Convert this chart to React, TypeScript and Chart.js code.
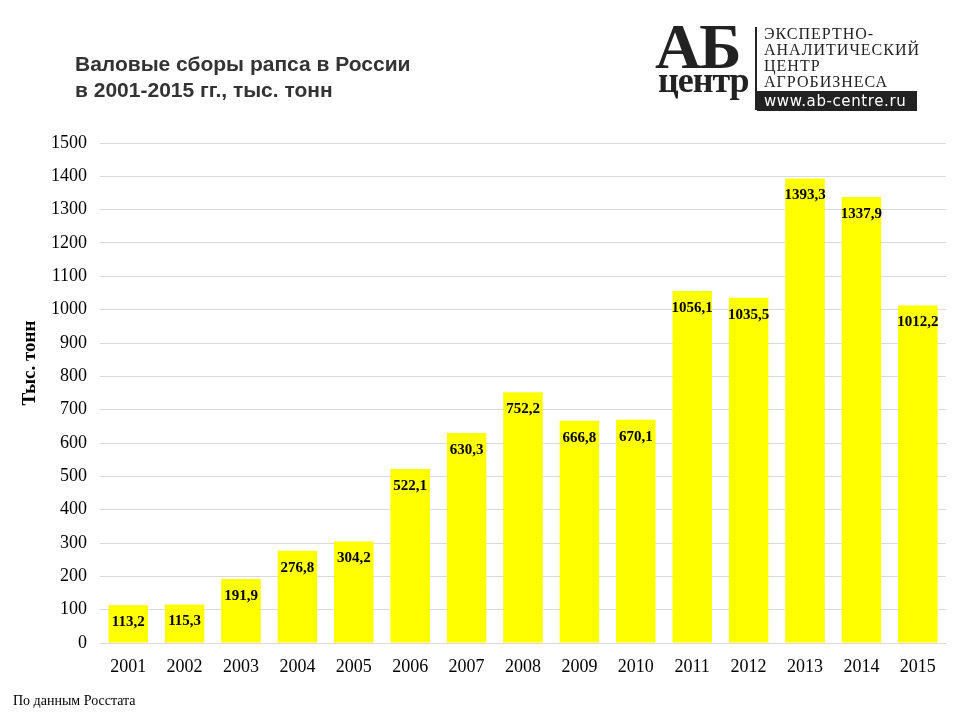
import React, { useEffect, useRef } from "react";
import { Chart, registerables } from "chart.js";

Chart.register(...registerables);

const years = ["2001","2002","2003","2004","2005","2006","2007","2008","2009","2010","2011","2012","2013","2014","2015"];
const harvest = [113.2,115.3,191.9,276.8,304.2,522.1,630.3,752.2,666.8,670.1,1056.1,1035.5,1393.3,1337.9,1012.2];
const titleLines = ["Валовые сборы рапса в России", "в 2001-2015 гг., тыс. тонн"];
const axisTitle = "Тыс. тонн";
const sourceNote = "По данным Росстата";
const logoLines = ["ЭКСПЕРТНО-", "АНАЛИТИЧЕСКИЙ", "ЦЕНТР", "АГРОБИЗНЕСА"];
const logoUrl = "www.ab-centre.ru";

const serif = "'Liberation Serif', 'Times New Roman', serif";
const fmt = (v: number) => v.toFixed(1).replace(".", ",");

const labelPlugin = {
  id: "barLabels",
  afterDatasetsDraw(chart: any) {
    const ctx = chart.ctx;
    const meta = chart.getDatasetMeta(0);
    ctx.save();
    ctx.font = "bold 15px " + serif;
    ctx.fillStyle = "#000";
    ctx.textAlign = "center";
    ctx.textBaseline = "middle";
    meta.data.forEach((bar: any, i: number) => {
      ctx.fillText(fmt(harvest[i]), bar.x, bar.y + 17);
    });
    // y axis title
    ctx.translate(30, 363);
    ctx.rotate(-Math.PI / 2);
    ctx.font = "bold 19px " + serif;
    ctx.fillText(axisTitle, 0, 0);
    ctx.restore();
  },
};

export default function App() {
  const ref = useRef<HTMLCanvasElement>(null);
  useEffect(() => {
    document.body.style.margin = "0";
    const chart = new Chart(ref.current!, {
      type: "bar",
      data: {
        labels: years,
        datasets: [
          {
            data: harvest,
            backgroundColor: "#ffff00",
            borderWidth: 0,
            barPercentage: 0.7,
            categoryPercentage: 1,
          },
        ],
      },
      options: {
        animation: false,
        responsive: false,
        layout: { padding: { top: 143, right: 14, left: 0, bottom: 0 } },
        plugins: { legend: { display: false }, tooltip: { enabled: false }, title: { display: false } },
        scales: {
          x: {
            grid: { display: false },
            border: { display: false },
            ticks: {
              color: "#000",
              font: { family: serif, size: 18 },
              padding: 5,
            },
            afterFit: (s: any) => { s.height = 77; },
          },
          y: {
            min: 0,
            max: 1500,
            ticks: {
              stepSize: 100,
              color: "#000",
              font: { family: serif, size: 18 },
              padding: 13,
              callback: (v: any) => String(v),
            },
            grid: { color: "#d9d9d9", drawTicks: false, lineWidth: 1 },
            border: { display: false },
            afterFit: (s: any) => { s.width = 100; },
          },
        },
      },
      plugins: [labelPlugin],
    });
    return () => chart.destroy();
  }, []);

  return (
    <div style={{ position: "relative", width: 960, height: 720, background: "#fff", overflow: "hidden" }}>
      <canvas ref={ref} width={960} height={720} style={{ position: "absolute", left: 0, top: 0 }} />
      <div
        style={{
          position: "absolute",
          left: 75,
          top: 51,
          fontFamily: "'Liberation Sans', Arial, sans-serif",
          fontWeight: "bold",
          fontSize: 21,
          lineHeight: "26px",
          color: "#333",
        }}
      >
        <div>{titleLines[0]}</div>
        <div>{titleLines[1]}</div>
      </div>
      <div style={{ position: "absolute", left: 655, top: 19, fontFamily: serif, fontWeight: "bold", fontSize: 64, lineHeight: "56px", color: "#222", letterSpacing: -2 }}>
        АБ
      </div>
      <div style={{ position: "absolute", left: 658, top: 64, fontFamily: serif, fontWeight: "bold", fontSize: 36, lineHeight: "32px", color: "#222", letterSpacing: -1 }}>
        центр
      </div>
      <div style={{ position: "absolute", left: 755, top: 27, width: 2, height: 83, background: "#222" }} />
      <div style={{ position: "absolute", left: 764, top: 26, fontFamily: serif, fontSize: 16, lineHeight: "16px", color: "#222", letterSpacing: 1 }}>
        {logoLines.map((l) => (
          <div key={l}>{l}</div>
        ))}
      </div>
      <div
        style={{
          position: "absolute",
          left: 757,
          top: 91,
          width: 160,
          height: 20,
          background: "#222",
          color: "#fff",
          fontFamily: "'DejaVu Sans', sans-serif",
          fontSize: 15,
          lineHeight: "20px",
          paddingLeft: 7,
          letterSpacing: 0.6,
          boxSizing: "border-box",
          whiteSpace: "nowrap",
        }}
      >
        {logoUrl}
      </div>
      <div style={{ position: "absolute", left: 13, top: 693, fontFamily: serif, fontSize: 14, color: "#000" }}>
        {sourceNote}
      </div>
    </div>
  );
}
